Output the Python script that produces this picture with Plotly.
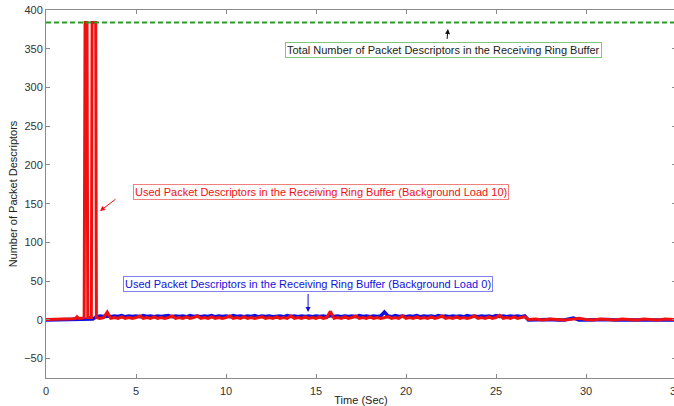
import plotly.graph_objects as go

# ---- data ----
total_descriptors = 384
total_t = [0, 35]

red_head_t = [0.0, 0.5, 1.0, 1.5, 1.65, 1.72, 1.8, 2.0, 2.12, 2.17, 2.28, 2.32, 2.52, 2.56, 2.76, 2.8]
red_head_v = [0.5, 0.5, 1, 1.5, 2, 4, 2, 2, 3, 384, 384, 3, 3, 384, 384, 3]

red_mid_v = [3, 2, 3, 10, 2, 3, 2, 4, 2, 3,
             2, 3, 5, 2, 3, 2, 4, 2, 3, 2,
             3, 5, 2, 3, 2, 4, 2, 3, 5, 2,
             3, 2, 4, 2, 3, 2, 3, 5, 2, 3,
             2, 4, 2, 3, 2, 3, 4, 2, 3, 2,
             4, 2, 3, 2, 5, 2, 3, 2, 4, 2,
             3, 2, 4, 2, 3, 11, 2, 3, 2, 4,
             2, 3, 5, 2, 3, 2, 4, 2, 3, 2,
             3, 4, 2, 3, 2, 5, 2, 3, 2, 4,
             2, 3, 2, 4, 2, 3, 5, 2, 3, 2,
             4, 2, 3, 2, 3, 5, 2, 3, 2, 4,
             2, 3, 6, 2, 3, 2, 4, 2, 3, 4]

blue_head_t = [0.0, 1.0, 2.0, 2.6]
blue_head_v = [0, 0, 0.5, 1]

blue_mid_v = [4, 5, 4.5, 5, 4, 5, 4.5, 5.5, 4, 5,
              4.5, 5, 4, 5.5, 4.5, 5, 4, 5, 4.5, 5,
              5.5, 4, 5, 4.5, 5, 4, 5.5, 4.5, 5, 4,
              5, 4.5, 5.5, 4, 5, 4.5, 5, 4, 5.5, 4.5,
              5, 4, 5, 4.5, 5.5, 4, 5, 4.5, 5, 4,
              4.5, 5, 4, 5.5, 4.5, 5, 4, 5, 4.5, 5,
              4, 5, 4.5, 5, 4, 5.5, 4.5, 5, 4, 5,
              4.5, 5, 4, 5.5, 4.5, 5, 4, 5, 4.5, 5,
              10, 5, 4, 5.5, 4.5, 5, 4, 5, 4.5, 5.5,
              4, 5, 4.5, 5, 4, 5.5, 4.5, 5, 4, 5,
              4.5, 5, 4, 5.5, 4.5, 5, 4, 5, 4.5, 5,
              4, 5.5, 4.5, 5, 4, 5, 4.5, 5, 4, 5]

tail_t = [26.8, 27.2, 27.6, 28.0, 28.4, 28.8, 29.3, 29.6, 30.0, 30.4, 30.8,
          31.2, 31.6, 32.0, 32.4, 32.8, 33.2, 33.6, 34.0, 34.4, 34.8, 35.2]
red_tail_v = [0.5, 1, 0, 1, 0.5, 0, 1, 2, 0.5, 0, 1,
              0.5, 0, 1, 0.5, 0, 1, 0.5, 0, 1, 0.5, 0]
blue_tail_v = [0, 0.5, 0, 0.5, 0, 0, 2.5, 0, 0, 0.5, 0,
               0.5, 0, 0, 0.5, 0, 0, 0.5, 0, 0, 0.5, 0]

mid_t = [round(2.8 + 0.2 * i, 2) for i in range(len(red_mid_v))]

red_t = red_head_t + mid_t[1:] + tail_t
red_v = red_head_v + red_mid_v[1:] + red_tail_v
blue_t = blue_head_t + mid_t + tail_t
blue_v = blue_head_v + blue_mid_v + blue_tail_v

x_ticks = [0, 5, 10, 15, 20, 25, 30, 35]
y_ticks = [-50, 0, 50, 100, 150, 200, 250, 300, 350, 400]

label_total = "Total Number of Packet Descriptors in the Receiving Ring Buffer"
label_load10 = "Used Packet Descriptors in the Receiving Ring Buffer (Background Load 10)"
label_load0 = "Used Packet Descriptors in the Receiving Ring Buffer (Background Load 0)"

FONT = "Liberation Sans, Arial, sans-serif"

fig = go.Figure()
fig.add_trace(go.Scatter(x=blue_t, y=blue_v, mode="lines",
                         line=dict(color="#1010e0", width=3.5), showlegend=False))
fig.add_trace(go.Scatter(x=red_t, y=red_v, mode="lines",
                         line=dict(color="#f01010", width=3), showlegend=False))
fig.add_trace(go.Scatter(x=total_t, y=[total_descriptors] * 2, mode="lines",
                         line=dict(color="#2a9a2a", width=2, dash="5px,3px"),
                         showlegend=False))

# text boxes
boxes = [
    (label_total, 22.11, 348.4, "#222222", "#7ec87e"),
    (label_load10, 15.28, 165.1, "#f01010", "#f08080"),
    (label_load0, 14.53, 46.3, "#1010e0", "#8080f0"),
]
for txt, x, y, fc, bc in boxes:
    fig.add_annotation(x=x, y=y, text=txt, showarrow=False,
                       font=dict(family=FONT, size=11, color=fc),
                       bordercolor=bc, borderwidth=1, borderpad=1,
                       bgcolor="rgba(255,255,255,0)")

# arrows: (tip_x, tip_y, ax_px, ay_px, color)
arrows = [
    (22.33, 375.5, -1, 12, "#111111"),
    (3.0, 140.5, 17, -13, "#f01010"),
    (14.56, 10.2, 0, -20, "#1010e0"),
]
for x, y, ax, ay, c in arrows:
    fig.add_annotation(x=x, y=y, ax=ax, ay=ay, text=" ", showarrow=True,
                       arrowhead=2, arrowsize=1, arrowwidth=1, arrowcolor=c,
                       font=dict(size=1))

axis_common = dict(showline=True, linecolor="#8a8a8a", linewidth=1, mirror="ticks",
                   ticks="inside", ticklen=4, tickcolor="#8a8a8a",
                   showgrid=False, zeroline=False, automargin=False,
                   ticklabeloverflow="allow",
                   tickfont=dict(family=FONT, size=11, color="#333333"))

fig.update_layout(
    width=678, height=406, autosize=False,
    margin=dict(l=46, r=2, t=10, b=28),
    plot_bgcolor="white", paper_bgcolor="white",
    xaxis=dict(range=[0, 35], tickvals=x_ticks, ticklabelstandoff=3,
               title=dict(text="Time (Sec)", standoff=0,
                          font=dict(family=FONT, size=11, color="#222222")),
               **axis_common),
    yaxis=dict(range=[-75, 400], tickvals=y_ticks,
               title=dict(text="Number of Packet Descriptors", standoff=4,
                          font=dict(family=FONT, size=11, color="#222222")),
               **axis_common),
)

fig.write_html(
    "out.html",
    config={"displayModeBar": False},
    post_script=("document.documentElement.style.overflow='hidden';"
                 "document.body.style.margin='0';"
                 "document.body.style.overflow='hidden';"),
)
